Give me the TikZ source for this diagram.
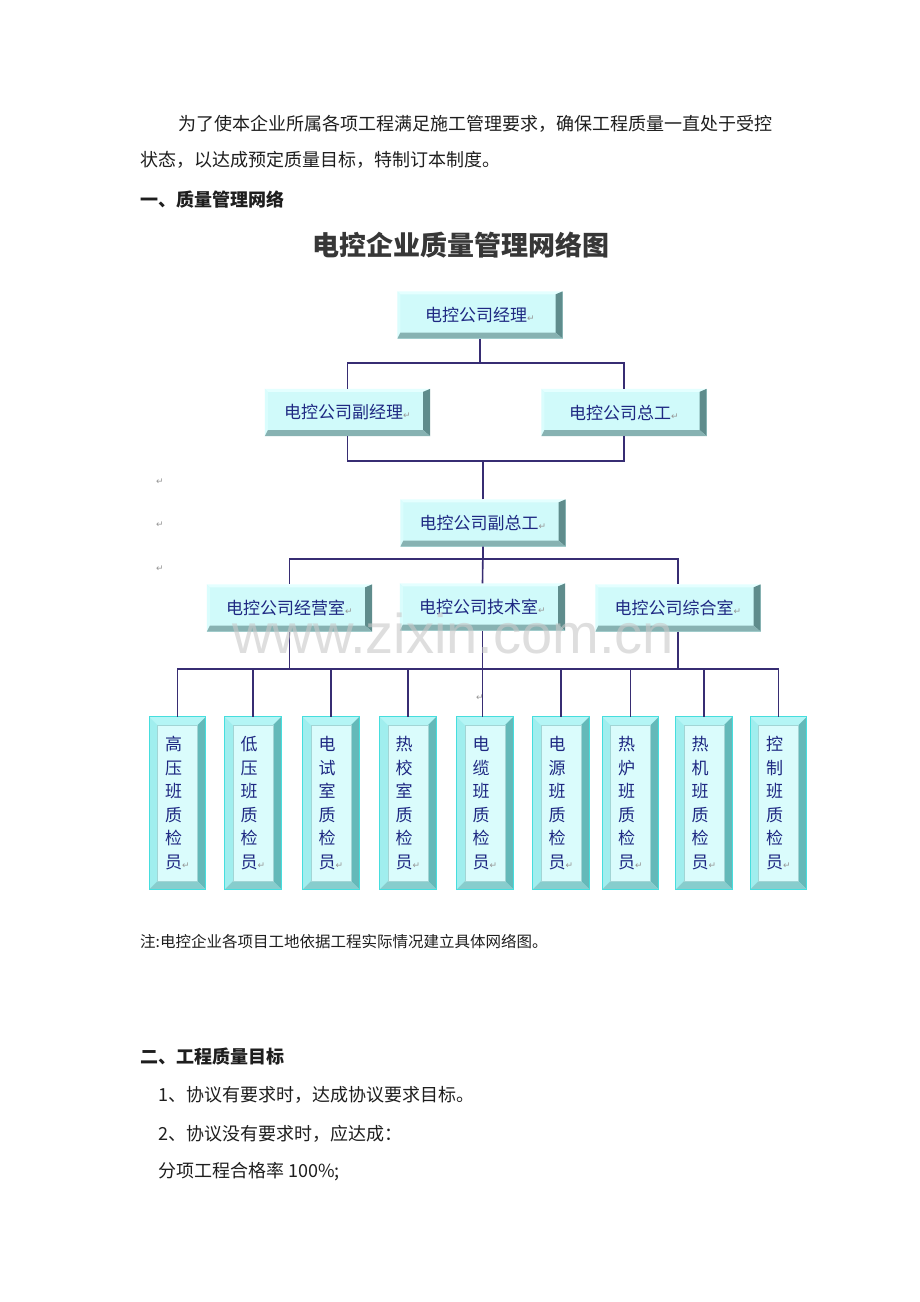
\documentclass[tikz,border=0pt]{standalone}
\usepackage{fontspec}
\setmainfont{Noto Sans CJK SC}
\newfontfamily\dvfont{DejaVu Sans}
\newfontfamily\wmfont{Liberation Sans}
\definecolor{boxface}{RGB}{208,250,250}
\definecolor{botface}{RGB}{218,252,252}
\definecolor{boxtext}{RGB}{30,40,130}
\definecolor{conncol}{RGB}{55,45,115}
\definecolor{bodytext}{RGB}{30,30,30}
\definecolor{titletext}{RGB}{55,55,55}
\definecolor{bvtop}{RGB}{228,255,255}
\definecolor{bvleft}{RGB}{218,253,253}
\definecolor{bvright}{RGB}{95,140,140}
\definecolor{bvbot}{RGB}{135,178,178}
\definecolor{bbtop}{RGB}{180,245,245}
\definecolor{bbleft}{RGB}{160,238,238}
\definecolor{bbright}{RGB}{100,185,185}
\definecolor{bbbot}{RGB}{135,205,205}
\definecolor{bbedge}{RGB}{70,222,222}
\definecolor{markgray}{RGB}{150,150,150}
\definecolor{wmgray}{RGB}{200,200,200}
\newcommand{\mk}{{\dvfont\fontsize{9}{9}\selectfont\color{markgray}↵}}
\newcommand{\mybevtop}[1]{%
 \fill[bvtop] (#1.north west) -- (#1.north east) -- ([shift={(-7pt,-3pt)}]#1.north east) -- ([shift={(3pt,-3pt)}]#1.north west) -- cycle;
 \fill[bvleft] (#1.north west) -- ([shift={(3pt,-3pt)}]#1.north west) -- ([shift={(3pt,6pt)}]#1.south west) -- (#1.south west) -- cycle;
 \fill[bvright] (#1.north east) -- (#1.south east) -- ([shift={(-7pt,6pt)}]#1.south east) -- ([shift={(-7pt,-3pt)}]#1.north east) -- cycle;
 \fill[bvbot] (#1.south west) -- ([shift={(3pt,6pt)}]#1.south west) -- ([shift={(-7pt,6pt)}]#1.south east) -- (#1.south east) -- cycle;
}
\newcommand{\mybevbot}[1]{%
 \fill[bbtop] (#1.north west) -- (#1.north east) -- ([shift={(-8pt,-8pt)}]#1.north east) -- ([shift={(8pt,-8pt)}]#1.north west) -- cycle;
 \fill[bbleft] (#1.north west) -- ([shift={(8pt,-8pt)}]#1.north west) -- ([shift={(8pt,8pt)}]#1.south west) -- (#1.south west) -- cycle;
 \fill[bbright] (#1.north east) -- (#1.south east) -- ([shift={(-8pt,8pt)}]#1.south east) -- ([shift={(-8pt,-8pt)}]#1.north east) -- cycle;
 \fill[bbbot] (#1.south west) -- ([shift={(8pt,8pt)}]#1.south west) -- ([shift={(-8pt,8pt)}]#1.south east) -- (#1.south east) -- cycle;
 \draw[bbedge, line width=1.2pt] (#1.north west) rectangle (#1.south east);
 \draw[bbright!60, line width=0.6pt] ([shift={(8pt,-8pt)}]#1.north west) rectangle ([shift={(-8pt,8pt)}]#1.south east);
}
\begin{document}
\begin{tikzpicture}[x=1pt,y=-1pt,
  topbox/.style={minimum width=165pt, minimum height=47pt, inner sep=0pt, fill=boxface, text=boxtext, font=\fontsize{17}{17}\selectfont},
  botbox/.style={minimum width=56pt, minimum height=172pt, inner sep=0pt, fill=botface, text=boxtext, align=left, font=\fontsize{17}{23.6}\selectfont},
  conn/.style={draw=conncol, line width=1.6pt},
  para/.style={anchor=west, inner sep=0pt, text=bodytext, font=\fontsize{18}{18}\selectfont},
  head/.style={anchor=west, inner sep=0pt, text=bodytext, font=\fontsize{18}{18}\selectfont\bfseries},
  marg/.style={inner sep=0pt, font=\dvfont\fontsize{9}{9}\selectfont, text=markgray}]
\useasboundingbox (0,0) rectangle (920,1302);
\fill[white] (0,0) rectangle (920,1302);

% text above
\node[para] (p1) at (178,124) {为了使本企业所属各项工程满足施工管理要求，确保工程质量一直处于受控};
\node[para] (p2) at (140,160) {状态，以达成预定质量目标，特制订本制度。};
\node[head] (h1) at (140,200) {一、质量管理网络};
\node[inner sep=0pt, text=titletext, font=\fontsize{27}{27}\selectfont\bfseries] (title) at (461,245) {电控企业质量管理网络图};

% upper boxes
\node[topbox] (m)   at (480,315) {电控公司经理\mk};
\node[topbox] (fj)  at (347.5,412.5) {电控公司副经理\mk};
\node[topbox] (zg)  at (624,412.5) {电控公司总工\mk};
\node[topbox] (fzg) at (483,523) {电控公司副总工\mk};
\node[topbox] (jy)  at (289.5,608) {电控公司经营室\mk};
\node[topbox] (js)  at (482.5,607) {电控公司技术室\mk};
\node[topbox] (zh)  at (678,608) {电控公司综合室\mk};
\foreach \n in {m,fj,zg,fzg,jy,js,zh} {\mybevtop{\n}}

% bottom boxes
\node[botbox] (b1) at (177.5,803) {高\\压\\班\\质\\检\\员\mk};
\node[botbox] (b2) at (253,803) {低\\压\\班\\质\\检\\员\mk};
\node[botbox] (b3) at (331,803) {电\\试\\室\\质\\检\\员\mk};
\node[botbox] (b4) at (408,803) {热\\校\\室\\质\\检\\员\mk};
\node[botbox] (b5) at (485,803) {电\\缆\\班\\质\\检\\员\mk};
\node[botbox] (b6) at (561,803) {电\\源\\班\\质\\检\\员\mk};
\node[botbox] (b7) at (630.5,803) {热\\炉\\班\\质\\检\\员\mk};
\node[botbox] (b8) at (704,803) {热\\机\\班\\质\\检\\员\mk};
\node[botbox] (b9) at (778.5,803) {控\\制\\班\\质\\检\\员\mk};
\foreach \n in {b1,b2,b3,b4,b5,b6,b7,b8,b9} {\mybevbot{\n}}

% connectors
\draw[conn] (m.south) -- ++(0,24) -| (fj.north);
\draw[conn] (m.south) ++(0,24) -| (zg.north);
\draw[conn] (fj.south) -- ++(0,25) -| (zg.south);
\draw[conn] (fzg.north) -- ++(0,-38);
\draw[conn] (fzg.south) -- ++(0,12) -| (jy.north);
\draw[conn] (fzg.south) ++(0,12) -| (zh.north);
\draw[conn] (fzg.south) -- (js.north);
\coordinate (bus) at (483,669);
\draw[conn] (b1.north) -- (b1.north |- bus) -| (b9.north);
\foreach \n in {b2,b3,b4,b6,b7,b8} {\draw[conn] (\n.north) -- (\n.north |- bus);}
\draw[conn] (jy.south) -- (jy.south |- bus);
\draw[conn] (zh.south) -- (zh.south |- bus);
\draw[conn] (js.south) -- (js.south |- b5.north);

% margin marks
\node[marg] (r1) at (160,482) {↵};
\node[marg] (r2) at (160,525) {↵};
\node[marg] (r3) at (160,569) {↵};
\node[marg] (r4) at (480,698) {↵};

% watermark
\node[anchor=base west, inner sep=0pt, text=wmgray, opacity=0.6, font=\wmfont\fontsize{56}{56}\selectfont] (wm) at (232,653) {www.zixin.com.cn};

% text below
\node[para, font=\fontsize{15.5}{15.5}\selectfont] (note) at (140,942) {注:电控企业各项目工地依据工程实际情况建立具体网络图。};
\node[head] (h2) at (140,1057) {二、工程质量目标};
\node[para] (l1) at (158,1095) {1、协议有要求时，达成协议要求目标。};
\node[para] (l2) at (158,1134) {2、协议没有要求时，应达成：};
\node[para] (l3) at (158,1172) {分项工程合格率 100\%;};
\end{tikzpicture}
\end{document}
